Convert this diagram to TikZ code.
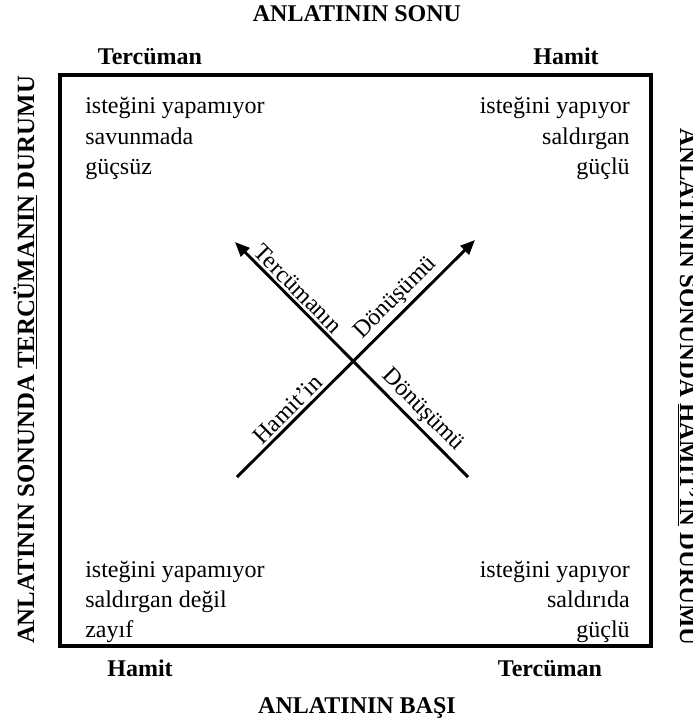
\documentclass[tikz,border=0pt]{standalone}
\usepackage{fontspec}
\setmainfont{Liberation Serif}
\usetikzlibrary{arrows.meta}
\begin{document}
\begin{tikzpicture}[x=0.75pt,y=-0.75pt,
  txt/.style={font=\fontsize{18}{22}\selectfont, inner sep=0pt},
  bld/.style={font=\fontsize{18}{22}\selectfont\bfseries, inner sep=0pt},
  side/.style={font=\fontsize{18.6}{22}\selectfont\bfseries, inner sep=0pt},
  frame/.style={line width=3.4pt},
  arrR/.style={line width=2.2pt, -{Triangle[length=11pt,width=9pt]}},
  arrL/.style={line width=2.2pt, {Triangle[length=11pt,width=9pt]}-},
  lbl/.style={font=\fontsize{18}{22}\selectfont, sloped, above, inner sep=2pt}]
\useasboundingbox (0,0) rectangle (693,726);
\draw[frame] (60,75) rectangle (651,646);
% headings
\node[bld, anchor=base] (top) at (357,21) {ANLATININ SONU};
\node[bld, anchor=base] (tl) at (150,64) {Tercüman};
\node[bld, anchor=base] (tr) at (566,64) {Hamit};
\node[bld, anchor=base] (bl) at (140,676) {Hamit};
\node[bld, anchor=base] (br) at (550,676) {Tercüman};
\node[bld, anchor=base] (bot) at (357,713) {ANLATININ BAŞI};
% side texts
\node[side, rotate=90, anchor=base] (lv) at (34,360) {ANLATININ SONUNDA \underline{TERCÜMANIN} DURUMU};
\node[side, rotate=-90, anchor=base] (rv) at (680,387) {ANLATININ SONUNDA \underline{HAMIT’IN} DURUMU};
% corner blocks
\node[txt, anchor=base west] (a1) at (85,113) {isteğini yapamıyor};
\node[txt, anchor=base west] (a2) at (85,144) {savunmada};
\node[txt, anchor=base west] (a3) at (85,174) {güçsüz};
\node[txt, anchor=base east] (b1) at (630,113) {isteğini yapıyor};
\node[txt, anchor=base east] (b2) at (630,144) {saldırgan};
\node[txt, anchor=base east] (b3) at (630,174) {güçlü};
\node[txt, anchor=base west] (c1) at (85,577) {isteğini yapamıyor};
\node[txt, anchor=base west] (c2) at (85,607) {saldırgan değil};
\node[txt, anchor=base west] (c3) at (85,637) {zayıf};
\node[txt, anchor=base east] (d1) at (630,577) {isteğini yapıyor};
\node[txt, anchor=base east] (d2) at (630,607) {saldırıda};
\node[txt, anchor=base east] (d3) at (630,637) {güçlü};
% arrows
\coordinate (hS) at (237,477);
\coordinate (hE) at (475,240);
\coordinate (tS) at (468,477);
\coordinate (tE) at (235,242);
\draw[arrR] (hS) -- (hE) node[lbl, pos=0.25] (h1) {Hamit’in} node[lbl, pos=0.71] (h2) {Dönüşümü};
\draw[arrL] (tE) -- (tS) node[lbl, pos=0.235] (t1) {Tercümanın} node[lbl, pos=0.76] (t2) {Dönüşümü};
\end{tikzpicture}
\end{document}
